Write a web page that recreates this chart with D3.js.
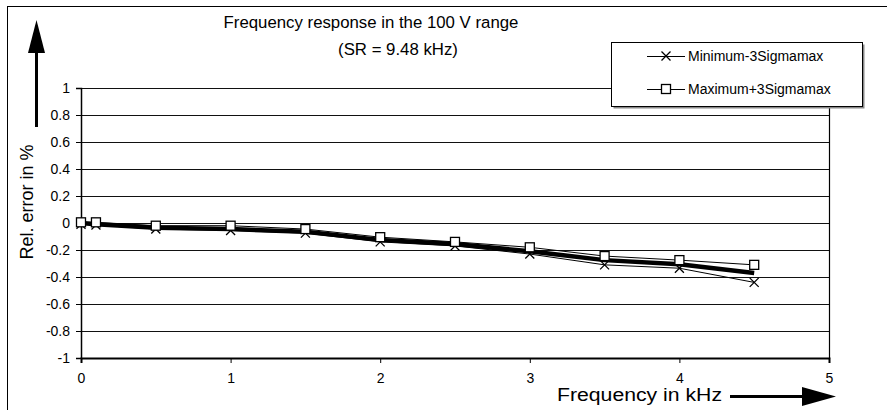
<!DOCTYPE html>
<html><head><meta charset="utf-8">
<script src="https://cdn.jsdelivr.net/npm/d3@7"></script>
<style>
html,body{margin:0;padding:0;background:#fff;}
svg{display:block;font-family:"Liberation Sans",Arial,sans-serif;}
</style></head>
<body><svg id="c" width="887" height="410"></svg>
<script>
const freq = [0, 0.1, 0.5, 1, 1.5, 2, 2.5, 3, 3.5, 4, 4.5];
const minSeries = [-0.01, -0.015, -0.045, -0.055, -0.075, -0.14, -0.17, -0.23, -0.31, -0.335, -0.44];
const maxSeries = [0.005, 0.005, -0.02, -0.02, -0.045, -0.105, -0.14, -0.18, -0.245, -0.275, -0.31];
const meanSeries = [0, -0.01, -0.035, -0.045, -0.065, -0.125, -0.155, -0.21, -0.275, -0.305, -0.37];
const xTicks = [0, 1, 2, 3, 4, 5];
const yTicks = [1, 0.8, 0.6, 0.4, 0.2, 0, -0.2, -0.4, -0.6, -0.8, -1];
const legendLabels = ["Minimum-3Sigmamax", "Maximum+3Sigmamax"];
const titleLines = ["Frequency response in the 100 V range", "(SR = 9.48 kHz)"];

const svg = d3.select("#c");
const L = 81, R = 829, T = 88, B = 358;
const x = d3.scaleLinear().domain([0, 5]).range([L, R]);
const y = d3.scaleLinear().domain([-1, 1]).range([B, T]);

// outer frame
svg.append("rect").attr("x", 7.5).attr("y", 6.5).attr("width", 900).attr("height", 500)
  .attr("fill", "none").attr("stroke", "#000").attr("stroke-width", 1);

// gridlines
svg.append("g").selectAll("line").data(yTicks).join("line")
  .attr("x1", L).attr("x2", R).attr("y1", d => Math.round(y(d)) + 0.5).attr("y2", d => Math.round(y(d)) + 0.5)
  .attr("stroke", "#111").attr("stroke-width", 1);

// right border
svg.append("line").attr("x1", R + 0.5).attr("x2", R + 0.5).attr("y1", T).attr("y2", B + 1)
  .attr("stroke", "#000").attr("stroke-width", 1.2);

// axes
const yAxis = d3.axisLeft(y).tickValues(yTicks).tickSize(5).tickPadding(6)
  .tickFormat(d => d === 0 ? "0" : String(d));
const gy = svg.append("g").attr("transform", `translate(${L},0)`).call(yAxis);
gy.select(".domain").attr("stroke-width", 1.5);
gy.selectAll("text").attr("font-size", 14).attr("font-family", "Liberation Sans, Arial, sans-serif").attr("fill", "#000");

const xAxis = d3.axisBottom(x).tickValues(xTicks).tickSize(5).tickPadding(10).tickFormat(d3.format("d"));
const gx = svg.append("g").attr("transform", `translate(0,${B})`).call(xAxis);
gx.select(".domain").attr("stroke-width", 2);
gx.selectAll("text").attr("font-size", 14).attr("font-family", "Liberation Sans, Arial, sans-serif").attr("fill", "#000");

// lines
const line = d3.line().x((d, i) => x(freq[i])).y(d => y(d));
svg.append("path").datum(minSeries).attr("d", line).attr("fill", "none").attr("stroke", "#000").attr("stroke-width", 1);
svg.append("path").datum(maxSeries).attr("d", line).attr("fill", "none").attr("stroke", "#000").attr("stroke-width", 1);
svg.append("path").datum(meanSeries).attr("d", line).attr("fill", "none").attr("stroke", "#000").attr("stroke-width", 4.5).attr("stroke-linejoin", "round");

// markers
const s = 4.5;
svg.append("g").selectAll("path").data(minSeries).join("path")
  .attr("d", (d, i) => { const cx = x(freq[i]), cy = y(d); return `M${cx-s},${cy-s}L${cx+s},${cy+s}M${cx-s},${cy+s}L${cx+s},${cy-s}`; })
  .attr("stroke", "#000").attr("stroke-width", 1.3).attr("fill", "none");
svg.append("g").selectAll("rect").data(maxSeries).join("rect")
  .attr("x", (d, i) => x(freq[i]) - s).attr("y", d => y(d) - s).attr("width", 2 * s).attr("height", 2 * s)
  .attr("fill", "#fff").attr("stroke", "#000").attr("stroke-width", 1.3);

// legend
const lg = svg.append("g");
lg.append("rect").attr("x", 613.5).attr("y", 44.5).attr("width", 251).attr("height", 64).attr("fill", "#888");
lg.append("rect").attr("x", 611.5).attr("y", 42.5).attr("width", 251).attr("height", 64).attr("fill", "#fff").attr("stroke", "#000");
const rows = [56, 89];
legendLabels.forEach((lab, i) => {
  const yy = rows[i];
  lg.append("line").attr("x1", 647).attr("x2", 685).attr("y1", yy + 0.5).attr("y2", yy + 0.5).attr("stroke", "#000");
  const cx = 666;
  if (i === 0) {
    lg.append("path").attr("d", `M${cx-s},${yy-s}L${cx+s},${yy+s}M${cx-s},${yy+s}L${cx+s},${yy-s}`).attr("stroke", "#000").attr("stroke-width", 1.3);
  } else {
    lg.append("rect").attr("x", cx - s).attr("y", yy - s).attr("width", 2 * s).attr("height", 2 * s).attr("fill", "#fff").attr("stroke", "#000").attr("stroke-width", 1.3);
  }
  lg.append("text").attr("x", 688).attr("y", yy + 5).attr("font-size", 14).text(lab);
});

// title
svg.append("text").attr("x", 371).attr("y", 28).attr("text-anchor", "middle").attr("font-size", 16.8).text(titleLines[0]);
svg.append("text").attr("x", 398).attr("y", 55).attr("text-anchor", "middle").attr("font-size", 16.8).text(titleLines[1]);

// axis titles
svg.append("text").attr("transform", "translate(33,202) rotate(-90)").attr("text-anchor", "middle").attr("font-size", 18).text("Rel. error in %");
svg.append("text").attr("x", 557).attr("y", 401).attr("font-size", 18)
  .attr("textLength", 165).attr("lengthAdjust", "spacingAndGlyphs").text("Frequency in kHz");

// arrows
svg.append("line").attr("x1", 36.5).attr("x2", 36.5).attr("y1", 127).attr("y2", 50).attr("stroke", "#000").attr("stroke-width", 3);
svg.append("path").attr("d", "M36.5,20L45,53L28,53Z").attr("fill", "#000");
svg.append("line").attr("x1", 730).attr("x2", 805).attr("y1", 396.5).attr("y2", 396.5).attr("stroke", "#000").attr("stroke-width", 3);
svg.append("path").attr("d", "M836,396.5L802,387L802,406Z").attr("fill", "#000");
</script></body></html>
